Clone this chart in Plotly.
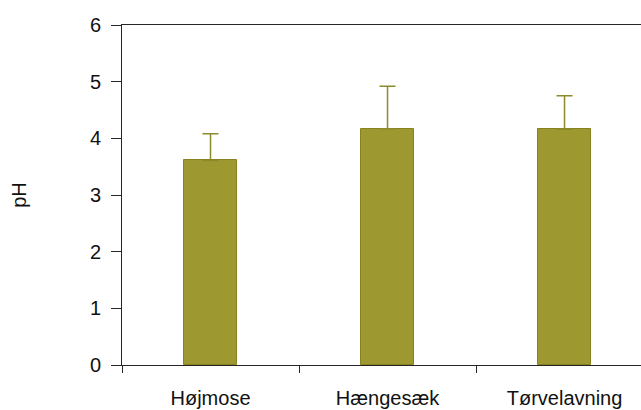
import plotly.graph_objects as go

# Mean pH per habitat type with upper standard deviation
categories = ["Højmose", "Hængesæk", "Tørvelavning"]
ph_mean = [3.61, 4.17, 4.16]
ph_sd = [0.47, 0.75, 0.59]
y_ticks = [0, 1, 2, 3, 4, 5, 6]

positions = list(range(len(categories)))
boundaries = [p - 0.5 for p in positions]

FONT = "Liberation Sans, Arial, sans-serif"
AXIS_COLOR = "#262626"

fig = go.Figure()
fig.add_trace(go.Bar(
    x=positions,
    y=ph_mean,
    width=0.3,
    marker=dict(color="#9E9830", line=dict(color="#87821F", width=1)),
    error_y=dict(type="data", array=ph_sd, arrayminus=[0] * len(ph_sd),
                 symmetric=False, color="#8C8A2A", thickness=1.5, width=8),
    showlegend=False,
))
# invisible trace carrying the category-boundary tick marks
fig.add_trace(go.Scatter(x=[positions[0]], y=[0], xaxis="x2", mode="markers",
                         marker=dict(opacity=0), showlegend=False, hoverinfo="skip"))

fig.update_layout(
    width=641, height=410,
    margin=dict(l=122, r=0, t=25, b=45),
    plot_bgcolor="white", paper_bgcolor="white",
    font=dict(family=FONT, size=20, color="#111111"),
    xaxis=dict(
        range=[-0.5, 2.432],
        tickvals=positions, ticktext=categories,
        ticks="outside", ticklen=15, tickcolor="rgba(0,0,0,0)",
        showline=True, linecolor=AXIS_COLOR, linewidth=1, mirror=True,
        showgrid=False, zeroline=False, automargin=False,
        tickfont=dict(size=20),
    ),
    xaxis2=dict(
        overlaying="x", matches="x", anchor="y", side="bottom",
        tickvals=boundaries, ticks="outside", ticklen=7, tickwidth=1,
        tickcolor=AXIS_COLOR, showticklabels=False, automargin=False,
        showline=False, showgrid=False, zeroline=False,
    ),
    yaxis=dict(
        range=[0, 6], tickvals=y_ticks,
        ticks="outside", ticklen=10, tickwidth=1, tickcolor=AXIS_COLOR,
        ticklabelstandoff=6,
        showline=True, linecolor=AXIS_COLOR, linewidth=1,
        showgrid=False, zeroline=False, automargin=False,
        tickfont=dict(size=20),
        title=dict(text="pH", font=dict(size=20), standoff=57),
    ),
    bargap=0,
)

fig.write_html("out.html")
